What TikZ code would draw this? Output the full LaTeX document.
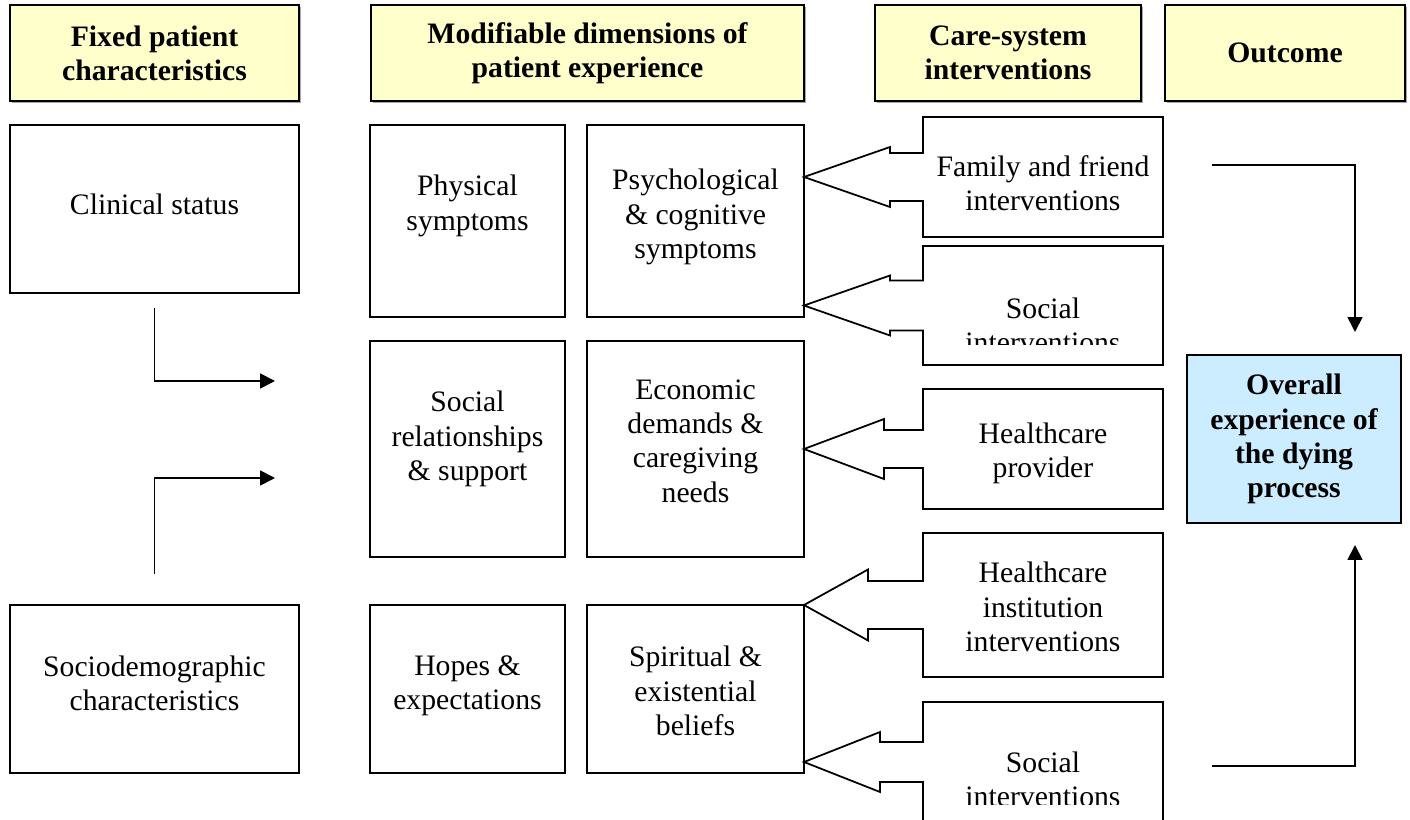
\documentclass[tikz,border=0pt]{standalone}
\usepackage{fontspec}
\setmainfont{Liberation Serif}
\usepackage{tikz}
\usetikzlibrary{positioning}
\usetikzlibrary{calc}
\usetikzlibrary{shadows}
\usetikzlibrary{arrows.meta}

\definecolor{headyellow}{HTML}{FFFFCC}
\definecolor{outblue}{HTML}{CCECFF}

\newcommand{\diagfont}{\fontsize{16.9}{19.5}\selectfont}

\tikzset{
  boxline/.style={draw=black,line width=1pt},
  plainbox/.style={boxline,align=center,inner sep=0pt,outer sep=0pt},
  headbox/.style={plainbox,fill=headyellow,font=\diagfont\bfseries,minimum height=1.92cm,
    drop shadow={shadow xshift=1.2pt,shadow yshift=-1.2pt,fill=gray!70,opacity=1}},
  carebox/.style={align=center,inner sep=0pt,outer sep=0pt,minimum width=4.8cm},
  boxtext/.style={align=center,inner sep=0pt,font=\diagfont,yshift=#1},
  flow/.style={line width=1pt,-{Triangle[length=8.5pt,width=8.5pt]}}
}

% box outline with a notched pointer to the left
% #1 box, #2 target, #3 notch depth, #4 notch half, #5 outer half
\newcommand{\calloutpath}[5]{%
  \draw[boxline,line join=miter] (#1.north west) -- (#1.north east) -- (#1.south east) -- (#1.south west)
    -- ($(#1.west)+(0,#4)$) -- ($(#1.west)+(-#3,#4)$) -- ($(#1.west)+(-#3,#5)$)
    -- (#2.east |- #1.west)
    -- ($(#1.west)+(-#3,-#5)$) -- ($(#1.west)+(-#3,-#4)$) -- ($(#1.west)+(0,-#4)$) -- cycle;}

\begin{document}
\begin{tikzpicture}[x=0.02cm,y=-0.02cm,font=\diagfont]
  \useasboundingbox (0,0) rectangle (1410,820);

  % column heads
  \node [headbox,minimum width=5.78cm] (hfix)  at (154.5,53) {Fixed patient\\characteristics};
  \node [headbox,minimum width=8.66cm] (hmod)  at (587.5,53) {Modifiable dimensions of\\patient experience};
  \node [headbox,minimum width=5.32cm] (hcare) at (1008,53)  {Care-system\\interventions};
  \node [headbox,minimum width=4.8cm]  (hout)  at (1285,53)  {Outcome};

  % fixed characteristics
  \node [plainbox,minimum width=5.78cm,minimum height=3.36cm,
         label={[boxtext=0.1cm]center:Clinical status}] (clin) at (154.5,209) {};
  \node [plainbox,minimum width=5.78cm,minimum height=3.36cm,
         label={[boxtext=0.12cm]center:{Sociodemographic\\characteristics}}] (socio) at (154.5,689) {};

  % modifiable dimensions
  \node [plainbox,minimum width=3.9cm,minimum height=3.84cm,
         label={[boxtext=0.3cm]center:{Physical\\symptoms}}] (phys) at (467.5,221) {};
  \node [plainbox,minimum width=4.34cm,minimum height=3.84cm,
         label={[boxtext=0.08cm]center:{Psychological\\\& cognitive\\symptoms}}] (psych) at (695.5,221) {};
  \node [plainbox,minimum width=3.9cm,minimum height=4.32cm,
         label={[boxtext=0.2cm]center:{Social\\relationships\\\& support}}] (socrel) at (467.5,449) {};
  \node [plainbox,minimum width=4.34cm,minimum height=4.32cm,
         label={[boxtext=0.16cm]center:{Economic\\demands \&\\caregiving\\needs}}] (econ) at (695.5,449) {};
  \node [plainbox,minimum width=3.9cm,minimum height=3.36cm,
         label={[boxtext=0.06cm]center:{Hopes \&\\expectations}}] (hopes) at (467.5,689) {};
  \node [plainbox,minimum width=4.34cm,minimum height=3.36cm,
         label={[boxtext=-0.04cm]center:{Spiritual \&\\existential\\beliefs}}] (spirit) at (695.5,689) {};

  % care-system interventions
  \node [carebox,minimum height=2.4cm,
         label={[boxtext=-0.12cm]center:{Family and friend\\interventions}}] (fam) at (1043,177) {};
  \node [carebox,minimum height=2.38cm] (soc1) at (1043,305.5) {};
  \node [carebox,minimum height=2.4cm,
         label={[boxtext=-0.08cm]center:{Healthcare\\provider}}] (prov) at (1043,449) {};
  \node [carebox,minimum height=2.88cm,
         label={[boxtext=-0.04cm]center:{Healthcare\\institution\\interventions}}] (inst) at (1043,605) {};
  \node [carebox,minimum height=2.4cm] (soc2) at (1043,762) {};

  \begin{scope}
    \clip (923,246) rectangle (1163,345);
    \node [boxtext=0cm] (soc1text) at (1043,325) {Social\\interventions};
  \end{scope}
  \begin{scope}
    \clip (923,702) rectangle (1163,804);
    \node [boxtext=0cm] (soc2text) at (1043,779) {Social\\interventions};
  \end{scope}

  \calloutpath{fam}{psych}{33}{24}{30}
  \calloutpath{soc1}{psych}{33}{25}{30}
  \calloutpath{prov}{econ}{39}{19}{30}
  \calloutpath{inst}{spirit}{55}{24}{35.5}
  \calloutpath{soc2}{spirit}{43}{20}{30}

  % outcome
  \node [plainbox,fill=outblue,minimum width=4.28cm,minimum height=3.36cm,
         label={[boxtext=0cm,font=\diagfont\bfseries]center:{Overall\\experience of\\the dying\\process}}]
         (overall) at (1294,439) {};

  % connectors
  \coordinate (modin1) at (275,381);
  \coordinate (modin2) at (275,478);
  \draw [flow,shorten <=0.3cm]  (clin.south)  |- (modin1);
  \draw [flow,shorten <=0.62cm] (socio.north) |- (modin2);

  \coordinate (famout) at (1212,165);
  \coordinate (outtop) at (1355,332);
  \coordinate (socout) at (1212,766);
  \coordinate (outbot) at (1355,545);
  \draw [flow] (famout) -| (outtop);
  \draw [flow] (socout) -| (outbot);
\end{tikzpicture}
\end{document}
